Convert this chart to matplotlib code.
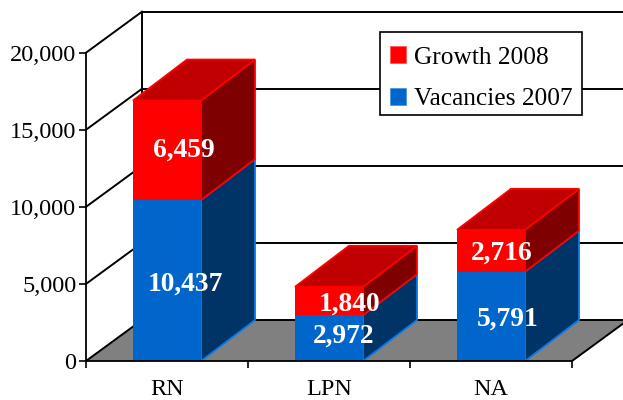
import matplotlib
matplotlib.use("Agg")
import matplotlib.pyplot as plt
from matplotlib.patches import Polygon, Patch, Rectangle
from matplotlib.ticker import FixedLocator, NullFormatter

categories = ["RN", "LPN", "NA"]
vacancies_2007 = [10437, 2972, 5791]
growth_2008 = [6459, 1840, 2716]
y_ticks = [0, 5000, 10000, 15000, 20000]
y_labels = ["0", "5,000", "10,000", "15,000", "20,000"]
series_names = ["Growth 2008", "Vacancies 2007"]
# label nudges in pixels relative to each segment's front-face centre
nudge_vac = [(18, -1), (15, 5), (17, 0)]
nudge_gro = [(17, 3), (21, 0), (11, 1)]

plt.rcParams["font.family"] = ["Liberation Serif", "DejaVu Serif"]
W, H = 623, 400
fig = plt.figure(figsize=(W / 100, H / 100), dpi=100, facecolor="white")
L, R, T, B = 86, 572, 52.7, 361
ax = fig.add_axes([L / W, 1 - B / H, (R - L) / W, (B - T) / H])
ax.set_xlim(0, 3)
ax.set_ylim(0, 20000)

px_x = 3 / (R - L)
px_y = 20000 / (B - T)
DX, DY = 56 * px_x, 41 * px_y
BAR_DX = 54 * px_x


def proj(x, y):
    return (x + DX, y + DY)


def proj_bar(x, y):
    return (x + BAR_DX, y + DY)


# floor
far = 3.2
ax.add_patch(Polygon([(0, 0), proj(0, 0), (far + DX, DY), proj(3, 0), (3, 0)],
                     closed=True, facecolor="#808080", edgecolor="none",
                     zorder=1, clip_on=False))
# walls
for t in y_ticks:
    ax.plot(*zip((0, t), proj(0, t)), color="black", lw=1.4, zorder=1.5, clip_on=False)
    ax.plot(*zip(proj(0, t), (far + DX, t + DY)), color="black", lw=1.4, zorder=1.5, clip_on=False)
ax.plot(*zip(proj(0, 0), proj(0, 20000)), color="black", lw=1.4, zorder=1.5, clip_on=False)
ax.plot(*zip((3, 0), proj(3, 0)), color="black", lw=1.4, zorder=1.5, clip_on=False)

# bars
xpos = [i + 0.5 for i in range(len(categories))]
width = 68 * px_x
blue, blue_side = "#0066CC", "#003366"
blue_edge = "#0A78E6"
red, red_top, red_side = "#FF0000", "#C00000", "#7F0000"

ax.bar(xpos, vacancies_2007, width, color=blue, zorder=3)
ax.bar(xpos, growth_2008, width, bottom=vacancies_2007, color=red, zorder=3)

for x, v, g in zip(xpos, vacancies_2007, growth_2008):
    x1 = x + width / 2
    x0 = x - width / 2
    ax.add_patch(Polygon([(x1, 0), proj_bar(x1, 0), proj_bar(x1, v), (x1, v)],
                         closed=True, facecolor=blue_side, edgecolor=blue_edge,
                         lw=1.3, zorder=2.8, clip_on=False))
    ax.add_patch(Polygon([(x1, v), proj_bar(x1, v), proj_bar(x1, v + g), (x1, v + g)],
                         closed=True, facecolor=red_side, edgecolor=red,
                         lw=1.3, zorder=2.9, clip_on=False))
    ax.add_patch(Polygon([(x0, v + g), proj_bar(x0, v + g), proj_bar(x1, v + g), (x1, v + g)],
                         closed=True, facecolor=red_top, edgecolor=red,
                         lw=1.3, zorder=2.9, clip_on=False))

# value labels
for i, x in enumerate(xpos):
    v, g = vacancies_2007[i], growth_2008[i]
    ax.annotate(f"{v:,}", (x, v / 2), xytext=(nudge_vac[i][0] * 0.72, nudge_vac[i][1] * 0.72),
                textcoords="offset points", ha="center", va="center_baseline",
                color="white", fontsize=19.8, fontweight="bold", zorder=5)
    ax.annotate(f"{g:,}", (x, v + g / 2), xytext=(nudge_gro[i][0] * 0.72, nudge_gro[i][1] * 0.72),
                textcoords="offset points", ha="center", va="center_baseline",
                color="white", fontsize=19.8, fontweight="bold", zorder=5)

# axes
for s in ("top", "right"):
    ax.spines[s].set_visible(False)
for s in ("left", "bottom"):
    ax.spines[s].set_linewidth(1.3)
    ax.spines[s].set_zorder(4)
ax.set_yticks(y_ticks, y_labels)
ax.tick_params(axis="y", length=5, width=1.2, labelsize=17.5, pad=2)
ax.xaxis.set_major_locator(FixedLocator([0, 1, 2, 3]))
ax.xaxis.set_major_formatter(NullFormatter())
ax.set_xticks(xpos, categories, minor=True)
ax.tick_params(axis="x", which="major", length=5, width=1.2)
ax.tick_params(axis="x", which="minor", length=0, labelsize=17.5, pad=13)

# legend: frame drawn separately so its margins can differ from the entry padding
ax.add_patch(Rectangle((380 / W, 1 - 115 / H), 202 / W, 83 / H, transform=fig.transFigure,
                       facecolor="white", edgecolor="black", lw=1.2, zorder=5.5, clip_on=False))
handles = [Patch(facecolor=red, edgecolor="#FF5050", lw=0.5),
           Patch(facecolor=blue, edgecolor="#4090E0", lw=0.5)]
leg = ax.legend(handles, series_names, loc="upper left",
                bbox_to_anchor=(390 / W, 1 - 46.5 / H), bbox_transform=fig.transFigure,
                borderaxespad=0, borderpad=0, fontsize=18.3, frameon=False,
                handlelength=0.63, handleheight=0.63,
                handletextpad=0.3, labelspacing=0.76)
leg.set_zorder(6)

fig.savefig("out.png", dpi=100)
